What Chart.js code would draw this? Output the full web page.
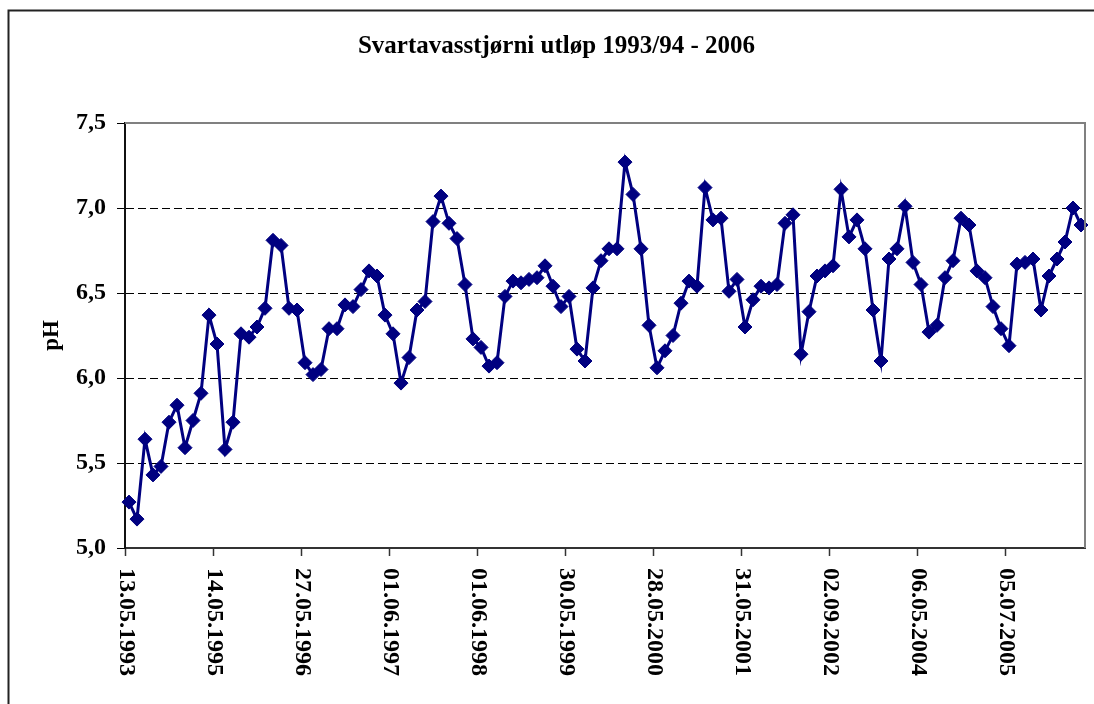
<!DOCTYPE html>
<html>
<head>
<meta charset="utf-8">
<title>Svartavasstjørni utløp</title>
<script src="https://cdn.jsdelivr.net/npm/chart.js@4.4.1/dist/chart.umd.min.js"></script>
<style>
  html, body { margin: 0; padding: 0; background: #fff; }
  #wrap { position: relative; width: 1094px; height: 704px; }
</style>
</head>
<body>
<div id="wrap"><canvas id="phChart" width="1094" height="704"></canvas></div>
<script>
// pH readings at the outlet, one per sample, in time order
const phValues = [
  5.27, 5.17, 5.64, 5.43, 5.48, 5.74, 5.84, 5.59, 5.75, 5.91,
  6.37, 6.20, 5.58, 5.74, 6.26, 6.24, 6.30, 6.41, 6.81, 6.78,
  6.41, 6.40, 6.09, 6.02, 6.05, 6.29, 6.29, 6.43, 6.42, 6.52,
  6.63, 6.60, 6.37, 6.26, 5.97, 6.12, 6.40, 6.45, 6.92, 7.07,
  6.91, 6.82, 6.55, 6.23, 6.18, 6.07, 6.09, 6.48, 6.57, 6.56,
  6.58, 6.59, 6.66, 6.54, 6.42, 6.48, 6.17, 6.10, 6.53, 6.69,
  6.76, 6.76, 7.27, 7.08, 6.76, 6.31, 6.06, 6.16, 6.25, 6.44,
  6.57, 6.54, 7.12, 6.93, 6.94, 6.51, 6.58, 6.30, 6.46, 6.54,
  6.53, 6.55, 6.91, 6.96, 6.14, 6.39, 6.60, 6.63, 6.66, 7.11,
  6.83, 6.93, 6.76, 6.40, 6.10, 6.70, 6.76, 7.01, 6.68, 6.55,
  6.27, 6.31, 6.59, 6.69, 6.94, 6.90, 6.63, 6.59, 6.42, 6.29,
  6.19, 6.67, 6.68, 6.70, 6.40, 6.60, 6.70, 6.80, 7.00, 6.90
];

// dates shown on the category axis (every 11th sample)
const tickDates = [
  '13.05.1993', '14.05.1995', '27.05.1996', '01.06.1997', '01.06.1998',
  '30.05.1999', '28.05.2000', '31.05.2001', '02.09.2002', '06.05.2004',
  '05.07.2005'
];
const tickEvery = 11;

const sampleNo = phValues.map((_, i) => i);

const serif = "'Liberation Serif', 'Times New Roman', serif";

// outer frame + plot border + rotated date labels
const excelLook = {
  id: 'excelLook',
  beforeDraw(chart) {
    const ctx = chart.ctx;
    ctx.save();
    ctx.fillStyle = '#fff';
    ctx.fillRect(0, 0, chart.width, chart.height);
    ctx.strokeStyle = '#222';
    ctx.lineWidth = 2;
    ctx.strokeRect(8.5, 10.5, 1200, 900);
    ctx.restore();
  },
  afterDatasetsDraw(chart) {
    const { ctx, chartArea: a } = chart;
    ctx.save();
    ctx.strokeStyle = '#808080';
    ctx.lineWidth = 2;
    ctx.beginPath();
    ctx.moveTo(a.left, a.top);
    ctx.lineTo(a.right, a.top);
    ctx.lineTo(a.right, a.bottom);
    ctx.stroke();
    ctx.restore();
  },
  afterDraw(chart) {
    const ctx = chart.ctx;
    const xs = chart.scales.x;
    ctx.save();
    ctx.fillStyle = '#000';
    ctx.font = 'bold 24px ' + serif;
    ctx.textAlign = 'left';
    ctx.textBaseline = 'middle';
    tickDates.forEach((d, k) => {
      const x = xs.getPixelForValue(k * tickEvery) - 3;
      ctx.save();
      ctx.translate(x, chart.chartArea.bottom + 20);
      ctx.rotate(Math.PI / 2);
      ctx.fillText(d, 0, 0);
      ctx.restore();
    });
    ctx.restore();
  }
};

new Chart(document.getElementById('phChart'), {
  type: 'line',
  data: {
    labels: sampleNo,
    datasets: [{
      label: 'pH',
      data: phValues,
      borderColor: '#000080',
      backgroundColor: '#000080',
      borderWidth: 3,
      pointStyle: 'rectRot',
      pointRadius: 7,
      pointBorderWidth: 1,
      pointBackgroundColor: '#000080',
      pointBorderColor: '#000080',
      tension: 0
    }]
  },
  options: {
    responsive: false,
    animation: false,
    layout: { padding: { left: 28, right: 9, top: 0, bottom: 0 } },
    plugins: {
      legend: { display: false },
      tooltip: { enabled: false },
      title: {
        display: true,
        text: 'Svartavasstjørni utløp 1993/94 - 2006',
        color: '#000',
        font: { family: serif, size: 25, weight: 'bold' },
        padding: { top: 32, bottom: 61 }
      }
    },
    scales: {
      x: {
        type: 'category',
        offset: true,
        ticks: { display: false, autoSkip: false },
        grid: {
          offset: true,
          drawOnChartArea: false,
          drawTicks: true,
          tickLength: 8,
          tickWidth: 1.5,
          tickColor: ctx => (ctx.index !== undefined && ctx.index % tickEvery === 0) ? '#333' : 'rgba(0,0,0,0)'
        },
        border: { display: true, color: '#333', width: 2 },
        afterFit: s => { s.height = 156; }
      },
      y: {
        min: 5,
        max: 7.5,
        ticks: {
          stepSize: 0.5,
          color: '#000',
          padding: 11,
          font: { family: serif, size: 24, weight: 'bold' },
          callback: v => v.toFixed(1).replace('.', ',')
        },
        grid: {
          color: ctx => (ctx.tick && (ctx.tick.value === 5 || ctx.tick.value === 7.5)) ? 'rgba(0,0,0,0)' : '#000',
          lineWidth: 1,
          tickLength: 8,
          tickColor: '#000',
          tickWidth: 1,
          tickBorderDash: []
        },
        border: { display: true, color: '#111', width: 2, dash: [8, 4] },
        title: {
          display: true,
          text: 'pH',
          color: '#000',
          font: { family: serif, size: 23, weight: 'bold' },
          padding: { top: 10, bottom: 0 }
        },
        afterFit: s => { s.width = 97; }
      }
    }
  },
  plugins: [excelLook]
});
</script>
</body>
</html>
